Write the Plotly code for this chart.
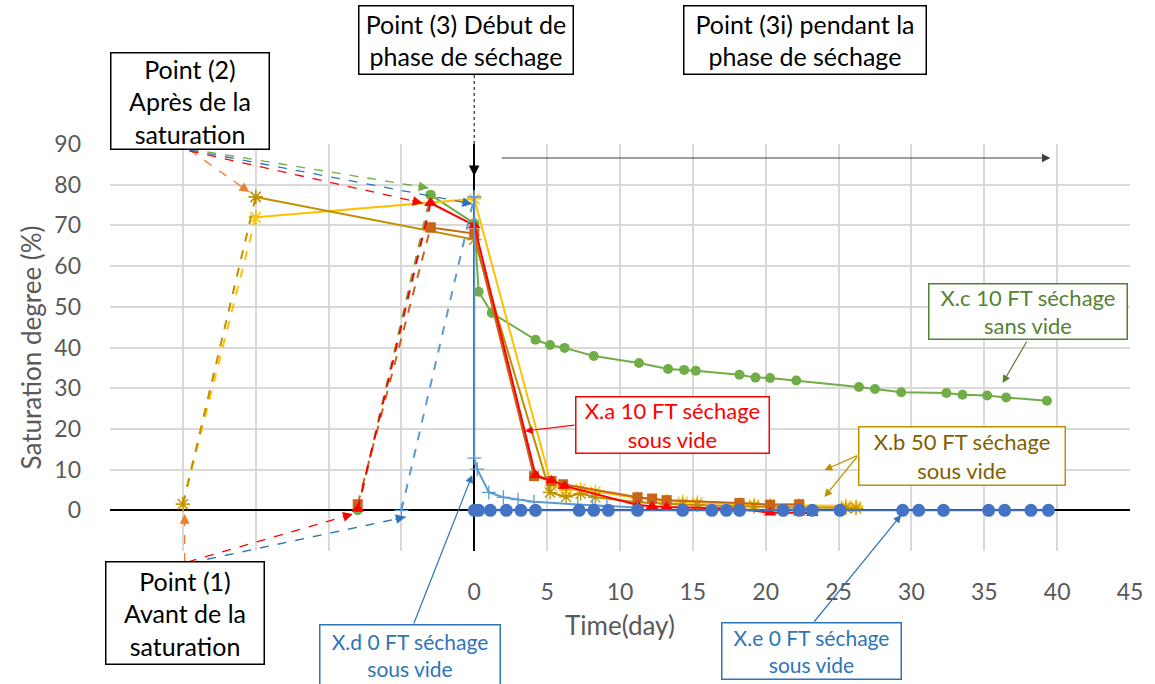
import plotly.graph_objects as go

# ---------------- data ----------------
# X.a 10 FT séchage sous vide (red triangles)
xa_sat_x = [-8, -3]
xa_sat_y = [0.3, 75.5]
xa_x = [-3, 0, 4.2, 5.3, 6.2, 11.2, 12.2, 13.2, 18.2, 20.3, 22.3, 23.2]
xa_y = [75.5, 70, 8.6, 7.3, 6.0, 1.3, 1.0, 0.8, 0.4, -0.6, -0.6, -0.7]

# second 10 FT sample (orange squares)
xa2_sat_x = [-8, -3]
xa2_sat_y = [1.5, 69.5]
xa2_x = [-3, 0, 4.1, 5.3, 6.1, 11.2, 12.2, 13.2, 18.2, 20.3, 22.3]
xa2_y = [69.5, 68, 8.4, 7.2, 6.4, 3.2, 2.9, 2.5, 1.8, 1.4, 1.5]

# X.c 10 FT séchage sans vide (green circles)
xc_sat_x = [-8, -3]
xc_sat_y = [0, 77.5]
xc_x = [-3, 0, 0.3, 1.2, 4.2, 5.2, 6.2, 8.2, 11.3, 13.3, 14.4, 15.2, 18.2, 19.3,
        20.3, 22.1, 26.4, 27.5, 29.3, 32.4, 33.5, 35.2, 36.5, 39.3]
xc_y = [77.5, 70.5, 53.7, 48.5, 41.9, 40.6, 39.9, 37.9, 36.2, 34.7, 34.5, 34.3, 33.3, 32.6,
        32.5, 31.9, 30.3, 29.8, 29.0, 28.8, 28.4, 28.2, 27.7, 26.9]

# X.b 50 FT séchage sous vide (dark gold stars)
xb_sat_x = [-20, -15]
xb_sat_y = [1.5, 77]
xb_x = [-15, 0, 5.2, 6.3, 7.3, 8.3, 11.2, 12.2, 13.2, 14.3, 15.3, 18.2, 19.2, 20.3, 22.3, 25.5, 26.2]
xb_y = [77, 66.5, 4.4, 3.3, 4.1, 3.2, 2.0, 1.8, 1.6, 1.4, 1.3, 1.0, 0.9, 0.8, 0.7, 0.6, 0.5]

# second 50 FT sample (yellow stars)
xb2_sat_x = [-20, -15]
xb2_sat_y = [1.5, 72]
xb2_x = [-15, 0, 5.3, 6.3, 7.3, 8.3, 11.2, 13.2, 14.3, 15.3, 18.2, 19.2, 20.3, 22.3, 25.5, 26.2]
xb2_y = [72, 76.5, 6.1, 4.9, 5.2, 4.6, 3.0, 2.3, 2.1, 1.9, 1.5, 1.4, 1.3, 1.2, 1.1, 1.0]

# X.d 0 FT séchage sous vide (light blue plus)
xd_sat_x = [-5, 0]
xd_sat_y = [0, 77]
xd_x = [0, 0, 0.2, 1.0, 2.0, 3.0, 4.1, 7.1, 8.1, 9.1, 11.2]
xd_y = [77, 12.8, 10.1, 4.4, 3.2, 2.6, 2.1, 1.4, 1.2, 1.0, 0.7]

# X.e 0 FT séchage sous vide (blue circles)
xe_x = [0, 0.3, 1.1, 2.2, 3.2, 4.2, 7.2, 8.2, 9.2, 11.2, 14.3, 16.3, 17.3, 18.2, 21.2,
        22.3, 23.2, 25.1, 29.4, 30.5, 32.2, 35.3, 36.4, 38.2, 39.4]
xe_y = [0, 0, 0, 0, 0, 0, 0, 0, 0, 0, 0, 0, 0, 0, 0,
        0, 0, 0, 0, 0, 0, 0, 0, 0, 0]

# axis ticks
x_tickvals = [-25, -20, -15, -10, -5, 0, 5, 10, 15, 20, 25, 30, 35, 40, 45]
x_ticktext = ["", "", "", "", "", "0", "5", "10", "15", "20", "25", "30", "35", "40", "45"]
y_tickvals = [-10, 0, 10, 20, 30, 40, 50, 60, 70, 80, 90]
y_ticktext = ["", "0", "10", "20", "30", "40", "50", "60", "70", "80", "90"]

# ---------------- styling ----------------
FONT = "Lato"
RED = "#FF0000"
ORANGE = "#C8651B"
GREEN = "#70AD47"
GOLD = "#BF9000"
YELLOW = "#FFC000"
LBLUE = "#5B9BD5"
BLUE = "#4472C4"

fig = go.Figure()


def add_series(sx, sy, dx, dy, color, symbol, size, open_marker=False):
    mk = dict(symbol=symbol, size=size, color=color)
    if open_marker:
        mk["line"] = dict(color=color, width=1.3)
    fig.add_trace(go.Scatter(x=sx, y=sy, mode="lines+markers",
                             line=dict(color=color, width=2, dash="dash"),
                             marker=mk, showlegend=False, hoverinfo="skip"))
    fig.add_trace(go.Scatter(x=dx, y=dy, mode="lines+markers",
                             line=dict(color=color, width=2),
                             marker=mk, showlegend=False, hoverinfo="skip"))


add_series(xc_sat_x, xc_sat_y, xc_x, xc_y, GREEN, "circle", 10)
add_series(xb2_sat_x, xb2_sat_y, xb2_x, xb2_y, YELLOW, "asterisk-open", 12, True)
add_series(xb_sat_x, xb_sat_y, xb_x, xb_y, GOLD, "asterisk-open", 12, True)
add_series(xa2_sat_x, xa2_sat_y, xa2_x, xa2_y, ORANGE, "square", 10)
add_series(xa_sat_x, xa_sat_y, xa_x, xa_y, RED, "triangle-up", 11)
add_series(xd_sat_x, xd_sat_y, xd_x, xd_y, LBLUE, "cross-thin-open", 10, True)
fig.add_trace(go.Scatter(x=xe_x, y=xe_y, mode="lines+markers",
                         line=dict(color=BLUE, width=2),
                         marker=dict(symbol="circle", size=13, color=BLUE),
                         showlegend=False, hoverinfo="skip"))

# ---------------- layout helpers (pixel -> paper) ----------------
PL, PR, PT, PB = 110, 1135, 144, 551


def P(px, py):
    return (px - PL) / (PR - PL), (PB - py) / (PB - PT)


shapes = []
annotations = []


def dashed(x0, y0, x1, y1, color, width=1.3, dash="dash"):
    a = P(x0, y0)
    b = P(x1, y1)
    shapes.append(dict(type="line", xref="paper", yref="paper", x0=a[0], y0=a[1],
                       x1=b[0], y1=b[1], line=dict(color=color, width=width, dash=dash)))


def arrow(hx, hy, tx, ty, color, width=1.2, head=2, size=1.3):
    h = P(hx, hy)
    annotations.append(dict(xref="paper", yref="paper", x=h[0], y=h[1], ax=tx - hx, ay=ty - hy,
                            text="", showarrow=True, arrowhead=head, arrowsize=size,
                            arrowwidth=width, arrowcolor=color, standoff=0))


def head_only(hx, hy, tx, ty, color):
    # short arrow (arrowhead) aligned with a dashed line from (tx,ty)
    dx, dy = tx - hx, ty - hy
    n = (dx * dx + dy * dy) ** 0.5
    L = 12
    arrow(hx, hy, hx + dx / n * L, hy + dy / n * L, color, width=1.5, head=2, size=1.3)


def box(x0, y0, x1, y1, text, border, fcolor, size=25):
    c = P((x0 + x1) / 2, (y0 + y1) / 2)
    annotations.append(dict(xref="paper", yref="paper", x=c[0], y=c[1], xanchor="center",
                            yanchor="middle", text=text, showarrow=False, align="center",
                            valign="middle", width=x1 - x0 - 3, height=y1 - y0 - 3,
                            bgcolor="white", bordercolor=border, borderwidth=1.5, borderpad=0,
                            font=dict(family=FONT, size=size, color=fcolor)))


# Point (2) dashed pointers
dashed(190, 150, 250, 192, "#ED7D31")
head_only(250, 192, 190, 150, "#ED7D31")
dashed(190, 149, 430, 188, GREEN)
head_only(430, 188, 190, 149, GREEN)
dashed(190, 151, 424, 203, RED)
head_only(424, 203, 190, 151, RED)
dashed(190, 150, 474, 204, "#2E75B6")
head_only(474, 204, 190, 150, "#2E75B6")

# Point (1) dashed pointers
dashed(185, 562, 185, 514, "#ED7D31")
head_only(185, 514, 185, 562, "#ED7D31")
dashed(188, 562, 354, 514, RED)
head_only(354, 514, 188, 562, RED)
dashed(190, 563, 407, 517, "#2E75B6")
head_only(407, 517, 190, 563, "#2E75B6")

# Point (3) dashed line + arrowhead on the x=0 axis
dashed(476, 75, 476, 165, "black", width=1, dash="dot")
arrow(476, 176, 476, 160, "black", width=1.5, head=2, size=1.4)

# horizontal arrow for the drying phase
arrow(1055, 158, 505, 158, "#404040", width=1.2, head=2, size=1.4)

# box pointers
arrow(527, 431, 578, 425, RED, width=1.2)
arrow(828, 470, 862, 455, GOLD, width=1.2)
arrow(828, 497, 862, 455, GOLD, width=1.2)
arrow(1007, 383, 1032, 340, "#548235", width=1.2)
arrow(474, 475, 415, 625, "#2E75B6", width=1.2)
arrow(905, 515, 817, 623, "#2E75B6", width=1.2)

# text boxes
box(110, 52, 270, 150, "Point (2)<br>Après de la<br>saturation", "black", "black")
box(360, 5, 576, 75, "Point (3) Début de<br>phase de séchage", "black", "black")
box(686, 5, 930, 75, "Point (3i) pendant la<br>phase de séchage", "black", "black")
box(105, 561, 265, 665, "Point (1)<br>Avant de la<br>saturation", "black", "black")
box(933, 283, 1133, 340, "X.c 10 FT séchage<br>sans vide", "#548235", "#548235", 22)
box(578, 396, 773, 454, "X.a 10 FT séchage<br>sous vide", RED, RED, 22)
box(862, 426, 1070, 486, "X.b 50 FT séchage<br>sous vide", GOLD, "#7F6000", 22)
box(320, 624, 502, 686, "X.d 0 FT séchage<br>sous vide", "#2E75B6", "#2E75B6", 21)
box(724, 622, 905, 680, "X.e 0 FT séchage<br>sous vide", "#2E75B6", "#2E75B6", 21)

fig.update_layout(
    width=1155, height=684,
    margin=dict(l=PL, r=1155 - PR, t=PT, b=684 - PB),
    paper_bgcolor="white", plot_bgcolor="white",
    font=dict(family=FONT, size=23, color="#595959"),
    shapes=shapes, annotations=annotations,
    xaxis=dict(range=[-25, 45], tickvals=x_tickvals, ticktext=x_ticktext,
               showgrid=True, gridcolor="#D9D9D9", gridwidth=1.5,
               zeroline=True, zerolinecolor="black", zerolinewidth=2,
               showline=False, ticks="", ticklabelstandoff=25,
               tickfont=dict(family=FONT, size=23, color="#595959"),
               title=dict(text="Time(day)", standoff=12,
                          font=dict(family=FONT, size=26, color="#595959"))),
    yaxis=dict(range=[-10, 90], tickvals=y_tickvals, ticktext=y_ticktext,
               showgrid=True, gridcolor="#D9D9D9", gridwidth=1.5,
               zeroline=True, zerolinecolor="black", zerolinewidth=1.5,
               showline=False, ticks="", ticklabelstandoff=28,
               tickfont=dict(family=FONT, size=23, color="#595959"),
               title=dict(text="Saturation degree (%)", standoff=5,
                          font=dict(family=FONT, size=26, color="#595959"))),
)

fig.write_html("out.html")
